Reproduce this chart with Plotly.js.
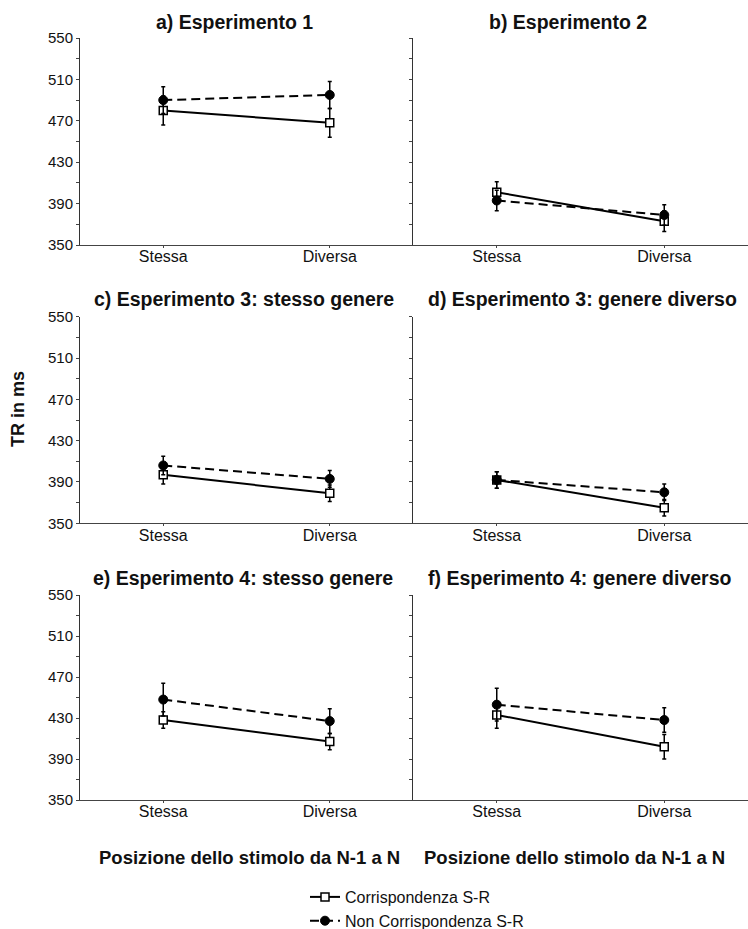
<!DOCTYPE html>
<html>
<head>
<meta charset="utf-8">
<script src="https://cdn.plot.ly/plotly-3.0.1.min.js"></script>
<style>
  html, body { margin: 0; padding: 0; background: #fff; }
  #chart { width: 748px; height: 929px; }
</style>
</head>
<body>
<div id="chart"></div>
<script>
// ---- data ----
const categories = ['Stessa', 'Diversa'];
const panelTitles = [
  'a) Esperimento 1',
  'b) Esperimento 2',
  'c) Esperimento 3: stesso genere',
  'd) Esperimento 3: genere diverso',
  'e) Esperimento 4: stesso genere',
  'f) Esperimento 4: genere diverso'
];
const seriesNames = ['Corrispondenza S-R', 'Non Corrispondenza S-R'];
// Corrispondenza S-R (open squares, solid line)
const corrMeans = [[480, 468], [401, 373], [397, 379], [392, 365], [428, 407], [433, 402]];
const corrErr   = [[14, 14],   [10, 10],   [9, 8],     [8, 8],     [8, 8],     [13, 12]];
// Non Corrispondenza S-R (filled circles, dashed line)
const nonMeans  = [[490, 495], [393, 379], [406, 393], [392, 380], [448, 427], [443, 428]];
const nonErr    = [[13, 13],   [10, 10],   [9, 8],     [8, 8],     [16, 12],   [16, 12]];
const yTickVals = [350, 370, 390, 410, 430, 450, 470, 490, 510, 530, 550];
const yTickText = ['350', '', '390', '', '430', '', '470', '', '510', '', '550'];
const yLabel = 'TR in ms';
const xLabel = 'Posizione dello stimolo da N-1 a N';

// ---- layout geometry (pixels) ----
const W = 748, H = 929;
const colPx = [[80, 413], [413, 748]];
const rowPx = [[38, 245], [316.7, 523.3], [595, 800]];
const titlePos = [[234.5, 22], [567.5, 22], [243.5, 299], [582, 299], [242.5, 578], [580, 578]];

const FONT = 'Liberation Sans, Arial, sans-serif';
const traces = [];
const layout = {
  width: W, height: H,
  margin: {l: 0, r: 0, t: 0, b: 0, autoexpand: false},
  paper_bgcolor: '#fff', plot_bgcolor: '#fff',
  font: {family: FONT, color: '#111'},
  showlegend: true,
  legend: {
    x: 305 / W, y: 1 - 880 / H, xanchor: 'left', yanchor: 'top',
    font: {size: 16, family: FONT, color: '#111'},
    itemwidth: 30, tracegroupgap: 0, bgcolor: 'rgba(0,0,0,0)'
  },
  annotations: [],
  shapes: []
};

for (let p = 0; p < 6; p++) {
  const r = Math.floor(p / 2), c = p % 2;
  const sfx = p === 0 ? '' : String(p + 1);
  const xa = 'x' + sfx, ya = 'y' + sfx;
  layout['xaxis' + sfx] = {
    domain: [colPx[c][0] / W, colPx[c][1] / W],
    anchor: ya, type: 'category', range: [-0.5, 1.5],
    showline: true, linecolor: '#444', linewidth: 1,
    ticks: 'outside', ticklen: 2, tickcolor: '#444',
    ticklabelstandoff: -5,
    showgrid: false, zeroline: false,
    tickfont: {size: 16, family: FONT, color: '#111'},
    fixedrange: true
  };
  layout['yaxis' + sfx] = {
    domain: [1 - rowPx[r][1] / H, 1 - rowPx[r][0] / H],
    anchor: xa, range: [350, 550],
    tickmode: 'array', tickvals: yTickVals, ticktext: yTickText,
    showticklabels: c === 0,
    showline: true, linecolor: '#333', linewidth: 1,
    ticks: 'outside', ticklen: 3, tickcolor: '#444',
    showgrid: false, zeroline: false,
    tickfont: {size: 15, family: FONT, color: '#111'},
    fixedrange: true
  };
  traces.push({
    type: 'scatter', mode: 'lines+markers', name: seriesNames[0],
    x: categories, y: corrMeans[p], xaxis: xa, yaxis: ya,
    legendgroup: 'corr', showlegend: p === 0,
    line: {color: '#000', width: 2},
    marker: {symbol: 'square', size: 8, color: '#fff', line: {color: '#000', width: 1.5}},
    error_y: {type: 'data', array: corrErr[p], visible: true, color: '#000', thickness: 1.5, width: 2},
    cliponaxis: false
  });
  traces.push({
    type: 'scatter', mode: 'lines+markers', name: seriesNames[1],
    x: categories, y: nonMeans[p], xaxis: xa, yaxis: ya,
    legendgroup: 'non', showlegend: p === 0,
    line: {color: '#000', width: 2, dash: '9px,5px'},
    marker: {symbol: 'circle', size: 9, color: '#000', line: {color: '#000', width: 1}},
    error_y: {type: 'data', array: nonErr[p], visible: true, color: '#000', thickness: 1.5, width: 2},
    cliponaxis: false
  });
  layout.annotations.push({
    xref: 'paper', yref: 'paper',
    x: titlePos[p][0] / W, y: 1 - titlePos[p][1] / H,
    xanchor: 'center', yanchor: 'middle', showarrow: false,
    text: '<b>' + panelTitles[p] + '</b>',
    font: {size: 19.5, family: FONT, color: '#111'}
  });
}

// y-axis label
layout.annotations.push({
  xref: 'paper', yref: 'paper', x: 18 / W, y: 1 - 409 / H,
  xanchor: 'center', yanchor: 'middle', showarrow: false, textangle: -90,
  text: '<b>' + yLabel + '</b>', font: {size: 18, family: FONT, color: '#111'}
});
// x-axis labels
[249, 574].forEach(function (cx) {
  layout.annotations.push({
    xref: 'paper', yref: 'paper', x: cx / W, y: 1 - 857 / H,
    xanchor: 'center', yanchor: 'middle', showarrow: false,
    text: '<b>' + xLabel + '</b>', font: {size: 18.5, family: FONT, color: '#111'}
  });
});

Plotly.newPlot('chart', traces, layout, {displayModeBar: false, staticPlot: true});
</script>
</body>
</html>
